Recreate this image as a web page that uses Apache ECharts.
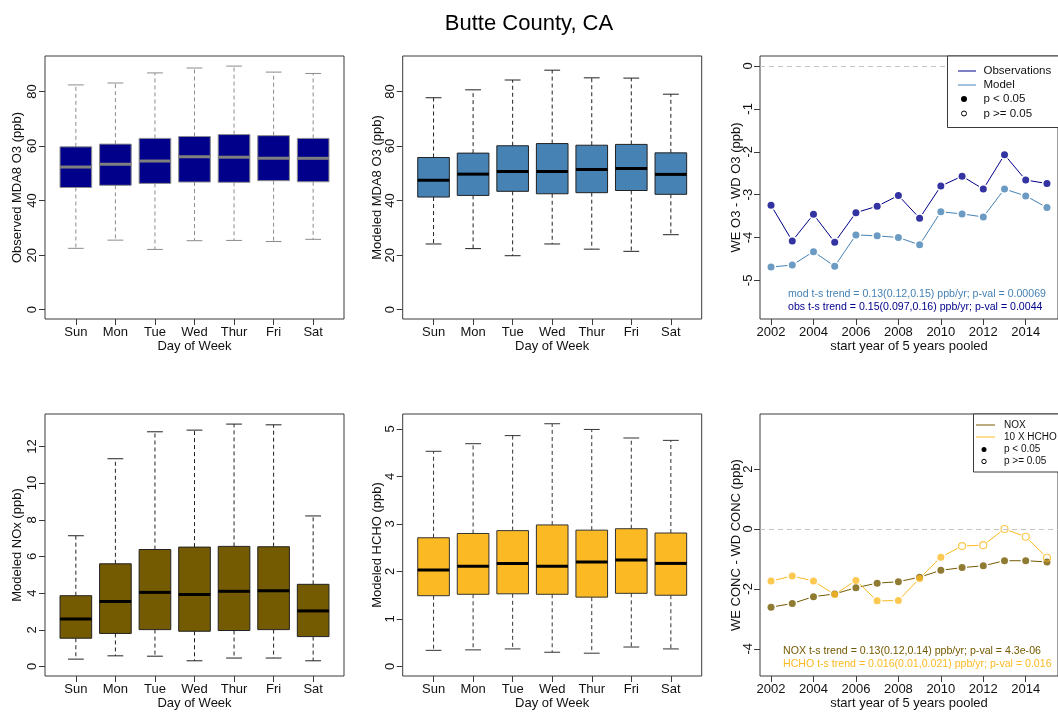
<!DOCTYPE html>
<html>
<head>
<meta charset="utf-8">
<script src="https://cdn.jsdelivr.net/npm/echarts@6/dist/echarts.min.js"></script>
<style>
  html, body { margin: 0; padding: 0; background: #ffffff; }
  #chart { width: 1058px; height: 718px; }
</style>
</head>
<body>
<div id="chart"></div>
<script>
const FONT = '"Liberation Sans", Arial, Helvetica, sans-serif';

// ---- data ----
const days = ['Sun', 'Mon', 'Tue', 'Wed', 'Thur', 'Fri', 'Sat'];

// weekday summaries: [lower whisker, Q1, median, Q3, upper whisker]
const obsO3Box = [
  [22.5, 44.8, 52.3, 59.7, 82.4],
  [25.5, 45.6, 53.3, 60.7, 83.1],
  [22.1, 46.3, 54.5, 62.8, 86.8],
  [25.3, 46.8, 56.1, 63.5, 88.6],
  [25.4, 46.7, 55.9, 64.2, 89.3],
  [25.0, 47.3, 55.5, 63.8, 87.1],
  [25.8, 46.9, 55.5, 62.8, 86.6]
];
const modO3Box = [
  [24.1, 41.3, 47.5, 55.8, 77.7],
  [22.4, 41.9, 49.7, 57.4, 80.6],
  [19.8, 43.4, 50.7, 60.1, 84.2],
  [24.1, 42.5, 50.7, 60.9, 87.8],
  [22.2, 42.9, 51.4, 60.3, 85.0],
  [21.4, 43.7, 51.8, 60.6, 84.9],
  [27.5, 42.3, 49.6, 57.5, 79.0]
];
const modNOxBox = [
  [0.40, 1.54, 2.59, 3.86, 7.13],
  [0.58, 1.80, 3.55, 5.60, 11.33],
  [0.56, 2.01, 4.04, 6.38, 12.80],
  [0.31, 1.92, 3.92, 6.51, 12.89],
  [0.46, 1.96, 4.10, 6.55, 13.22],
  [0.46, 2.01, 4.13, 6.53, 13.18],
  [0.31, 1.63, 3.03, 4.48, 8.21]
];
const modHCHOBox = [
  [0.34, 1.49, 2.03, 2.71, 4.53],
  [0.35, 1.52, 2.11, 2.80, 4.69],
  [0.37, 1.53, 2.17, 2.86, 4.86],
  [0.30, 1.52, 2.11, 2.98, 5.11],
  [0.28, 1.46, 2.20, 2.87, 4.99],
  [0.41, 1.54, 2.24, 2.90, 4.81],
  [0.37, 1.50, 2.17, 2.81, 4.76]
];

// weekend minus weekday differences, by first year of each 5-year pool
const years = [2002, 2003, 2004, 2005, 2006, 2007, 2008, 2009, 2010, 2011, 2012, 2013, 2014, 2015];
const obsO3Diff = [-3.25, -4.08, -3.46, -4.11, -3.42, -3.27, -3.02, -3.55, -2.80, -2.57, -2.87, -2.07, -2.66, -2.74];
const modO3Diff = [-4.69, -4.64, -4.33, -4.67, -3.94, -3.96, -4.00, -4.17, -3.40, -3.45, -3.52, -2.87, -3.03, -3.30];
const noxDiff = [-2.61, -2.49, -2.26, -2.17, -1.96, -1.81, -1.76, -1.61, -1.38, -1.29, -1.23, -1.06, -1.06, -1.10];
const hchoDiff10 = [-1.74, -1.57, -1.74, -2.19, -1.72, -2.40, -2.39, -1.65, -0.94, -0.57, -0.54, 0.00, -0.26, -0.96];
// significance of each weekend/weekday difference (p < 0.05)
const obsO3Sig = [true, true, true, true, true, true, true, true, true, true, true, true, true, true];
const modO3Sig = [true, true, true, true, true, true, true, true, true, true, true, true, true, true];
const noxSig = [true, true, true, true, true, true, true, true, true, true, true, true, true, true];
const hchoSig = [true, true, true, true, true, true, true, true, true, false, false, false, false, false];

const yearTicks = [2002, 2004, 2006, 2008, 2010, 2012, 2014];
const dayTicks = [1, 2, 3, 4, 5, 6, 7];

const trendText = {
  mod: 'mod t-s trend = 0.13(0.12,0.15) ppb/yr; p-val = 0.00069',
  obs: 'obs t-s trend = 0.15(0.097,0.16) ppb/yr; p-val = 0.0044',
  nox: 'NOX t-s trend = 0.13(0.12,0.14) ppb/yr; p-val = 4.3e-06',
  hcho: 'HCHO t-s trend = 0.016(0.01,0.021) ppb/yr; p-val = 0.016'
};

// ---- colours ----
const NAVY = '#00008B';
const STEEL = '#4682B4';
const NOXC = '#745A00';
const HCHOC = '#FBBA24';
const FRAME = '#3a3a3a';
const INK = '#111111';

// ---- panel frames ----
const grids = [
  { left: 45, top: 56, width: 299, height: 263 },
  { left: 402.7, top: 56, width: 299, height: 263 },
  { left: 760, top: 56, width: 298.5, height: 263 },
  { left: 45, top: 414, width: 299, height: 262 },
  { left: 402.7, top: 414, width: 299, height: 262 },
  { left: 760, top: 414, width: 298.5, height: 262 }
].map(g => Object.assign({ show: true, borderColor: FRAME, borderWidth: 1, backgroundColor: 'transparent', containLabel: false }, g));

function labelStyle(size) {
  return { fontFamily: FONT, fontSize: size, color: INK };
}

function xDayAxis(gi) {
  return {
    type: 'value', gridIndex: gi, min: 0.22, max: 7.78,
    name: 'Day of Week', nameLocation: 'middle', nameGap: 21, nameMoveOverlap: false,
    nameTextStyle: labelStyle(13),
    axisLine: { show: false, onZero: false }, splitLine: { show: false },
    axisTick: { show: true, length: 6, customValues: dayTicks, lineStyle: { color: FRAME } },
    axisLabel: Object.assign({ customValues: dayTicks, margin: 7, formatter: v => days[Math.round(v) - 1] }, labelStyle(13))
  };
}

function xYearAxis(gi) {
  return {
    type: 'value', gridIndex: gi, min: 2001.48, max: 2015.52,
    name: 'start year of 5 years pooled', nameLocation: 'middle', nameGap: 21, nameMoveOverlap: false,
    nameTextStyle: labelStyle(13),
    axisLine: { show: false, onZero: false }, splitLine: { show: false },
    axisTick: { show: true, length: 6, customValues: yearTicks, lineStyle: { color: FRAME } },
    axisLabel: Object.assign({ customValues: yearTicks, margin: 7, formatter: v => String(Math.round(v)) }, labelStyle(13))
  };
}

function yAxisDef(gi, min, max, ticks, name, gap, margin) {
  return {
    type: 'value', gridIndex: gi, min: min, max: max,
    name: name, nameLocation: 'middle', nameGap: gap, nameMoveOverlap: false,
    nameTextStyle: labelStyle(13),
    axisLine: { show: false, onZero: false }, splitLine: { show: false },
    axisTick: { show: true, length: 6, customValues: ticks, lineStyle: { color: FRAME } },
    axisLabel: Object.assign({ customValues: ticks, rotate: 90, margin: margin, formatter: v => String(Math.round(v * 100) / 100) }, labelStyle(13))
  };
}

// box-and-whisker marks drawn on the panel's own value scales
function boxSeries(gi, stats, fill, edge, medColor) {
  return {
    type: 'custom', xAxisIndex: gi, yAxisIndex: gi, z: 3,
    data: stats.map((s, i) => [i + 1].concat(s)),
    encode: { x: 0, y: [1, 2, 3, 4, 5] },
    renderItem: function (params, api) {
      const x = api.value(0);
      const hw = api.size([0.4, 0])[0];
      const cx = api.coord([x, 0])[0];
      const py = k => api.coord([x, api.value(k)])[1];
      const lo = py(1), q1 = py(2), md = py(3), q3 = py(4), hi = py(5);
      const dashed = { stroke: edge, lineWidth: 1, lineDash: [4, 3], fill: null };
      const solid = { stroke: edge, lineWidth: 1, fill: null };
      return {
        type: 'group',
        children: [
          { type: 'line', shape: { x1: cx, y1: q3, x2: cx, y2: hi }, style: dashed },
          { type: 'line', shape: { x1: cx, y1: q1, x2: cx, y2: lo }, style: dashed },
          { type: 'line', shape: { x1: cx - hw / 2, y1: hi, x2: cx + hw / 2, y2: hi }, style: solid },
          { type: 'line', shape: { x1: cx - hw / 2, y1: lo, x2: cx + hw / 2, y2: lo }, style: solid },
          { type: 'rect', shape: { x: cx - hw, y: q3, width: 2 * hw, height: q1 - q3 }, style: { fill: fill, stroke: edge, lineWidth: 1 } },
          { type: 'line', shape: { x1: cx - hw, y1: md, x2: cx + hw, y2: md }, style: { stroke: medColor, lineWidth: 3 } }
        ]
      };
    }
  };
}

// connecting segments that stop short of each point
function gapLineSeries(gi, xs, ys, color) {
  const segs = xs.slice(0, -1).map((x, i) => [x, ys[i], xs[i + 1], ys[i + 1]]);
  return {
    type: 'custom', xAxisIndex: gi, yAxisIndex: gi, z: 3,
    data: segs,
    encode: { x: [0, 2], y: [1, 3] },
    renderItem: function (params, api) {
      const p1 = api.coord([api.value(0), api.value(1)]);
      const p2 = api.coord([api.value(2), api.value(3)]);
      const dx = p2[0] - p1[0], dy = p2[1] - p1[1];
      const len = Math.hypot(dx, dy), gap = 5;
      if (len <= 2 * gap) return null;
      const ux = dx / len, uy = dy / len;
      return {
        type: 'line',
        shape: { x1: p1[0] + ux * gap, y1: p1[1] + uy * gap, x2: p2[0] - ux * gap, y2: p2[1] - uy * gap },
        style: { stroke: color, lineWidth: 1 }
      };
    }
  };
}

function pointSeries(gi, xs, ys, sig, color) {
  return {
    type: 'scatter', xAxisIndex: gi, yAxisIndex: gi, z: 4,
    symbol: 'circle', symbolSize: 7,
    data: xs.map((x, i) => ({
      value: [x, ys[i]],
      itemStyle: sig[i]
        ? { color: color, borderWidth: 0 }
        : { color: 'rgba(0,0,0,0)', borderColor: color, borderWidth: 1.2 }
    }))
  };
}

function zeroLine(gi) {
  return {
    type: 'scatter', xAxisIndex: gi, yAxisIndex: gi, z: 1, data: [],
    markLine: {
      silent: true, symbol: ['none', 'none'], animation: false,
      label: { show: false },
      lineStyle: { color: '#c4c4c4', type: [5, 4], width: 1 },
      data: [{ yAxis: 0 }]
    }
  };
}

// ---- legends and trend notes ----
function txt(x, y, text, size, color, align) {
  return {
    type: 'text', x: x, y: y, z: 101,
    style: { text: text, fontFamily: FONT, fontSize: size, fill: color, textAlign: align || 'left', textVerticalAlign: 'middle' }
  };
}
function seg(x1, x2, y, color) {
  return { type: 'line', z: 101, shape: { x1: x1, y1: y, x2: x2, y2: y }, style: { stroke: color, lineWidth: 1 } };
}
function dot(x, y, r, filled) {
  return {
    type: 'circle', z: 101, shape: { cx: x, cy: y, r: r },
    style: filled ? { fill: '#000' } : { fill: '#fff', stroke: '#000', lineWidth: 1 }
  };
}

const graphics = [
  { type: 'rect', z: 100, shape: { x: 947.5, y: 56, width: 140, height: 71.5 }, style: { fill: '#fff', stroke: FRAME, lineWidth: 1 } },
  seg(958, 976, 71, NAVY), txt(983.5, 71, 'Observations', 11.5, INK),
  seg(958, 976, 85, STEEL), txt(983.5, 85, 'Model', 11.5, INK),
  dot(964, 99, 3, true), txt(983.5, 99, 'p < 0.05', 11.5, INK),
  dot(964, 113.5, 2.5, false), txt(983.5, 113.5, 'p >= 0.05', 11.5, INK),

  { type: 'rect', z: 100, shape: { x: 973.5, y: 414, width: 110, height: 58 }, style: { fill: '#fff', stroke: FRAME, lineWidth: 1 } },
  seg(976, 995, 425, NOXC), txt(1004, 425, 'NOX', 10, INK),
  seg(976, 995, 437, HCHOC), txt(1004, 437, '10 X HCHO', 10, INK),
  dot(984, 449.5, 2.5, true), txt(1004, 449.5, 'p < 0.05', 10, INK),
  dot(984, 461.5, 2.2, false), txt(1004, 461.5, 'p >= 0.05', 10, INK),

  txt(788, 294.3, trendText.mod, 10.6, STEEL),
  txt(788, 307.3, trendText.obs, 10.6, NAVY),
  txt(783, 650.7, trendText.nox, 10.6, NOXC),
  txt(783, 664, trendText.hcho, 10.6, HCHOC)
];

const option = {
  animation: false,
  backgroundColor: '#ffffff',
  title: {
    text: 'Butte County, CA', left: 'center', top: 8,
    textStyle: { fontFamily: FONT, fontSize: 22, fontWeight: 'normal', color: '#000' }
  },
  grid: grids,
  xAxis: [xDayAxis(0), xDayAxis(1), xYearAxis(2), xDayAxis(3), xDayAxis(4), xYearAxis(5)],
  yAxis: [
    yAxisDef(0, -3.4, 93, [0, 20, 40, 60, 80], 'Observed MDA8 O3 (ppb)', 21, 6),
    yAxisDef(1, -3.4, 93, [0, 20, 40, 60, 80], 'Modeled MDA8 O3 (ppb)', 19, 6),
    yAxisDef(2, -5.9, 0.233, [0, -1, -2, -3, -4, -5], 'WE O3 - WD O3 (ppb)', 17, 5),
    yAxisDef(3, -0.52, 13.77, [0, 2, 4, 6, 8, 10, 12], 'Modeled NOx (ppb)', 21, 6),
    yAxisDef(4, -0.2, 5.315, [0, 1, 2, 3, 4, 5], 'Modeled HCHO (ppb)', 19, 6),
    yAxisDef(5, -4.91, 3.84, [-4, -2, 0, 2], 'WE CONC - WD CONC (ppb)', 17, 5)
  ],
  series: [
    boxSeries(0, obsO3Box, NAVY, '#8c8c8c', '#7f7f7f'),
    boxSeries(1, modO3Box, STEEL, '#222', '#000'),
    boxSeries(3, modNOxBox, NOXC, '#222', '#000'),
    boxSeries(4, modHCHOBox, HCHOC, '#333', '#000'),

    zeroLine(2),
    gapLineSeries(2, years, obsO3Diff, NAVY),
    gapLineSeries(2, years, modO3Diff, STEEL),
    pointSeries(2, years, obsO3Diff, obsO3Sig, NAVY),
    pointSeries(2, years, modO3Diff, modO3Sig, STEEL),

    zeroLine(5),
    gapLineSeries(5, years, noxDiff, NOXC),
    gapLineSeries(5, years, hchoDiff10, HCHOC),
    pointSeries(5, years, noxDiff, noxSig, NOXC),
    pointSeries(5, years, hchoDiff10, hchoSig, HCHOC)
  ],
  graphic: graphics
};

const chart = echarts.init(document.getElementById('chart'), null, { renderer: 'canvas' });
chart.setOption(option);
</script>
</body>
</html>
